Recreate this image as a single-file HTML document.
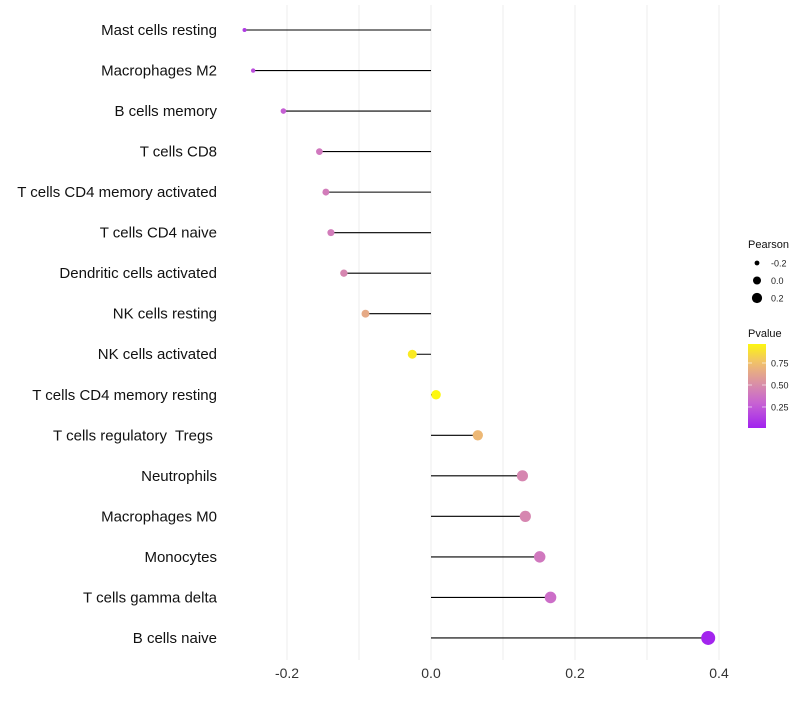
<!DOCTYPE html>
<html><head><meta charset="utf-8"><style>
body{margin:0;background:#fff;font-family:"Liberation Sans",sans-serif}
svg text{font-family:"Liberation Sans",sans-serif;white-space:pre}
</style></head><body>
<svg id="c" width="800" height="700"></svg>
<script>
const categories=["Mast cells resting","Macrophages M2","B cells memory","T cells CD8","T cells CD4 memory activated","T cells CD4 naive","Dendritic cells activated","NK cells resting","NK cells activated","T cells CD4 memory resting","T cells regulatory  Tregs ","Neutrophils","Macrophages M0","Monocytes","T cells gamma delta","B cells naive"];
const pearson=[-0.259,-0.247,-0.205,-0.155,-0.146,-0.139,-0.121,-0.091,-0.026,0.007,0.065,0.127,0.131,0.151,0.166,0.385];
const pvalue=[0.12,0.2,0.28,0.4,0.42,0.42,0.47,0.65,0.92,0.97,0.72,0.47,0.47,0.4,0.35,0.02];
const xTicks=[-0.2,0,0.2,0.4];
const xTickLabels=["-0.2","0.0","0.2","0.4"];
const sizeLegend=[-0.2,0.0,0.2];
const colorTicks=[0.25,0.5,0.75];

const ns="http://www.w3.org/2000/svg";
const svg=document.getElementById('c');
function el(t,a,p){const e=document.createElementNS(ns,t);for(const k in a)e.setAttribute(k,a[k]);(p||svg).appendChild(e);return e;}
const x=v=>431+720*v;
const y=i=>30+i*40.53;
const r=v=>Math.sqrt(Math.max(1,22.1+69.9*v));
const stops=[[0,[160,32,240]],[0.3,[200,100,210]],[0.5,[216,140,170]],[0.75,[240,190,110]],[1,[255,255,0]]];
function col(p){for(let i=1;i<stops.length;i++){if(p<=stops[i][0]){const a=stops[i-1],b=stops[i];const t=(p-a[0])/(b[0]-a[0]);const c=a[1].map((v,k)=>Math.round(v+(b[1][k]-v)*t));return `rgb(${c})`;}}return 'rgb(255,255,0)';}
for(let v=-0.2;v<=0.401;v+=0.1){
 const g=el('line',{x1:x(v),x2:x(v),y1:5,y2:660,stroke:'#eeeeee','stroke-width':1});
 
 
}
xTicks.forEach((v,i)=>{
 const t=el('text',{x:x(v),y:678,'text-anchor':'middle','font-size':14,fill:'#333'});
 t.textContent=xTickLabels[i];
 
 
});
categories.forEach((c,i)=>{
 const t=el('text',{x:217,y:y(i)+5,'text-anchor':'end','font-size':15,fill:'#111'});
 t.textContent=c;
 
 
 const l=el('line',{x1:x(0),x2:x(pearson[i]),y1:y(i),y2:y(i),stroke:'#000','stroke-width':1.1});
 
 
 const d=el('circle',{cx:x(pearson[i]),cy:y(i),r:r(pearson[i]),fill:col(pvalue[i])});
 
 
});
const lt=el('text',{x:748,y:248,'font-size':11,fill:'#111'});lt.textContent='Pearson';


sizeLegend.forEach((v,i)=>{
 const cy=263+i*17.5;
 const c=el('circle',{cx:757,cy:cy,r:r(v)*0.85,fill:'#000'});
 
 
 const t=el('text',{x:771,y:cy+3.5,'font-size':9,fill:'#222'});t.textContent=v.toFixed(1);
 
 
});
const ct=el('text',{x:748,y:337,'font-size':11,fill:'#111'});ct.textContent='Pvalue';


const defs=el('defs',{});
const lg=el('linearGradient',{id:'g',x1:0,y1:1,x2:0,y2:0},defs);
for(let k=0;k<=10;k++){el('stop',{offset:k/10,'stop-color':col(0.011+k/10*(0.966-0.011))},lg);}
const bar=el('rect',{x:748,y:344,width:18,height:84,fill:'url(#g)'});


const cy=v=>428-(v-0.011)/(0.966-0.011)*84;
colorTicks.forEach(v=>{
 el('line',{x1:748,x2:752,y1:cy(v),y2:cy(v),stroke:'#fff','stroke-opacity':0.6});
 el('line',{x1:762,x2:766,y1:cy(v),y2:cy(v),stroke:'#fff','stroke-opacity':0.6});
 const t=el('text',{x:771,y:cy(v)+3.5,'font-size':9,fill:'#222'});t.textContent=v.toFixed(2);
 
 
});
</script>
</body></html>
